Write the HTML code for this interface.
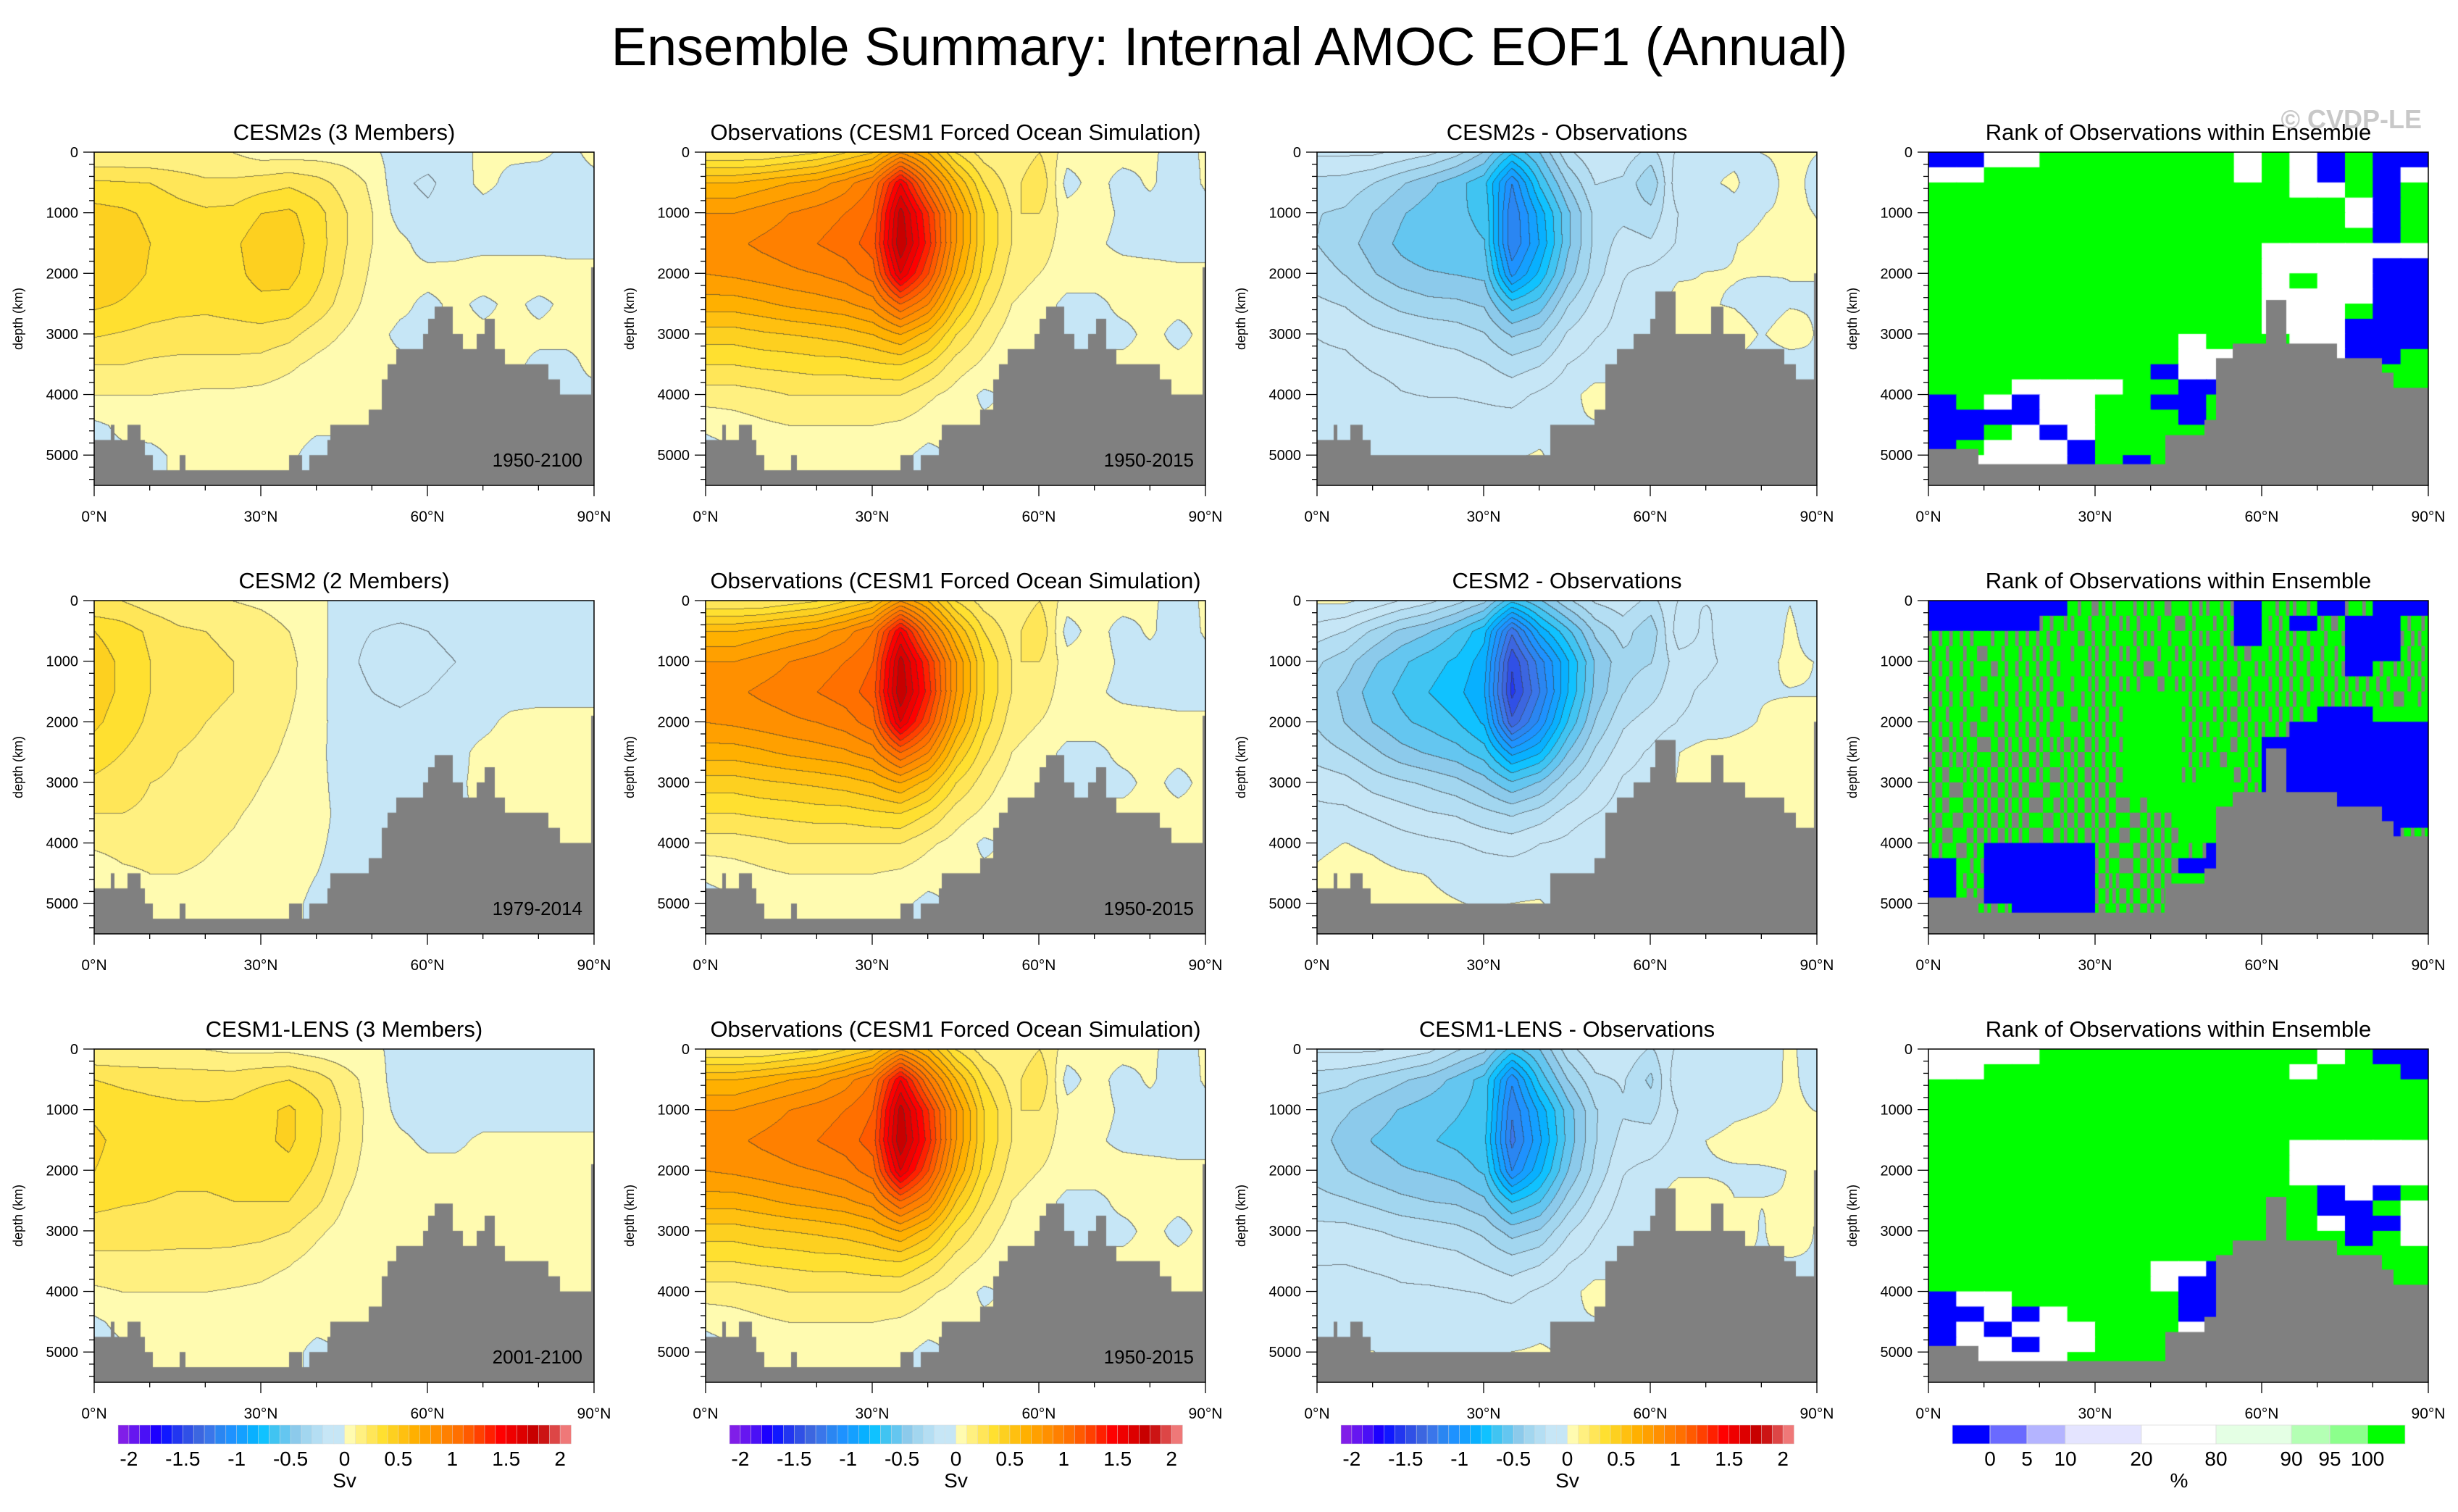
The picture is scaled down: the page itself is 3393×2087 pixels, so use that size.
<!DOCTYPE html>
<html><head><meta charset="utf-8">
<style>
html,body{margin:0;padding:0;background:#fff;}
#root{position:relative;width:3393px;height:2087px;overflow:hidden;background:#fff;font-family:"Liberation Sans",sans-serif;}
canvas{position:absolute;}
svg{position:absolute;left:0;top:0;}
</style></head>
<body>
<div id="root">
<svg id="ov" width="3393" height="2087"></svg>
</div>
<script>
// ---------- DATA ----------
const lats = [0,5,10,15,20,25,30,35,40,45,50,55,60,65,70,75,80,85,90];
const depths = [0,500,1000,1500,2000,2500,3000,3500,4000,4500,5000,5500];
const cesm2s = [
[0.1,0.1,0.1,0.1,0.1,0.1,0.05,0.05,0.05,0.05,0.02,-0.05,-0.05,-0.03,0.02,0.02,0.02,-0.02,0.02],
[0.32,0.31,0.3,0.26,0.22,0.22,0.25,0.28,0.24,0.16,0.08,-0.08,-0.12,-0.05,0.03,-0.03,-0.05,-0.03,-0.02],
[0.44,0.42,0.38,0.34,0.32,0.33,0.4,0.42,0.34,0.21,0.1,-0.05,-0.08,-0.05,-0.05,-0.05,-0.05,-0.05,-0.05],
[0.48,0.45,0.4,0.35,0.34,0.38,0.46,0.46,0.35,0.21,0.1,0.03,-0.05,-0.04,-0.03,-0.03,-0.03,-0.03,-0.03],
[0.48,0.45,0.39,0.35,0.34,0.37,0.44,0.44,0.33,0.19,0.08,0.03,0.03,0.03,0.05,0.05,0.05,0.03,0.03],
[0.42,0.39,0.35,0.33,0.32,0.34,0.37,0.36,0.27,0.15,0.06,0.02,-0.02,0.02,-0.02,0.02,-0.02,0.02,0.02],
[0.31,0.29,0.27,0.26,0.26,0.26,0.26,0.23,0.15,0.09,0.03,-0.02,-0.02,0.02,0.02,0.02,0.02,0.02,0.02],
[0.2,0.2,0.18,0.17,0.17,0.17,0.16,0.12,0.07,0.04,0.02,0.02,0.02,0.02,0.02,0.02,-0.02,-0.02,0.02],
[0.1,0.1,0.1,0.09,0.08,0.08,0.07,0.05,0.03,0.02,0.02,0.02,0.02,0.02,0.02,0.02,0.02,-0.02,-0.02],
[-0.02,0.02,0.04,0.05,0.05,0.04,0.03,0.02,0.01,0.01,0.01,0.01,0.01,0.01,0.01,0.01,0.01,0.01,0.01],
[-0.03,-0.02,-0.03,0.02,0.02,0.02,0.02,0.01,-0.02,-0.02,0.01,0.01,0.01,0.01,0.01,0.01,0.01,0.01,0.01],
[-0.03,-0.02,-0.03,0.02,0.02,0.02,0.02,0.01,-0.02,-0.02,0.01,0.01,0.01,0.01,0.01,0.01,0.01,0.01,0.01]];
const cesm2 = [
[0.2,0.2,0.15,0.12,0.1,0.1,0.08,0.05,0.03,-0.05,-0.05,-0.05,-0.05,-0.05,-0.05,-0.05,-0.05,-0.05,-0.05],
[0.4,0.35,0.28,0.22,0.2,0.18,0.15,0.1,0.05,-0.08,-0.1,-0.12,-0.1,-0.08,-0.08,-0.05,-0.08,-0.05,-0.05],
[0.45,0.38,0.3,0.25,0.22,0.2,0.16,0.12,0.05,-0.08,-0.12,-0.15,-0.12,-0.1,-0.08,-0.08,-0.08,-0.05,-0.05],
[0.45,0.38,0.3,0.25,0.22,0.2,0.16,0.12,0.04,-0.07,-0.1,-0.12,-0.1,-0.08,-0.06,-0.05,-0.05,-0.05,-0.05],
[0.42,0.35,0.28,0.23,0.2,0.18,0.15,0.1,0.03,-0.05,-0.07,-0.08,-0.06,-0.05,-0.03,0.03,0.05,0.05,0.05],
[0.35,0.3,0.25,0.2,0.18,0.16,0.13,0.08,0.02,-0.04,-0.05,-0.05,-0.04,-0.03,0.03,0.05,0.05,0.05,0.05],
[0.28,0.25,0.2,0.18,0.16,0.14,0.1,0.06,0.02,-0.03,-0.04,-0.04,-0.03,-0.02,0.03,0.05,0.05,0.05,0.05],
[0.2,0.2,0.18,0.15,0.13,0.11,0.08,0.05,0.02,-0.02,-0.03,-0.03,-0.02,-0.02,0.02,0.03,0.03,0.03,0.03],
[0.12,0.14,0.14,0.13,0.11,0.09,0.06,0.04,0.01,-0.02,-0.02,-0.02,-0.02,-0.02,0.02,0.02,0.02,0.02,0.02],
[0.03,0.08,0.1,0.1,0.09,0.07,0.05,0.03,0.0,-0.02,-0.02,-0.02,-0.02,-0.02,0.02,0.02,0.02,0.02,0.02],
[-0.03,0.02,0.05,0.06,0.06,0.05,0.04,0.02,-0.02,-0.02,-0.02,-0.02,-0.02,-0.02,0.02,0.02,0.02,0.02,0.02],
[-0.03,0.02,0.05,0.06,0.06,0.05,0.04,0.02,-0.02,-0.02,-0.02,-0.02,-0.02,-0.02,0.02,0.02,0.02,0.02,0.02]];
const lens = [
[0.1,0.1,0.1,0.1,0.1,0.08,0.08,0.08,0.05,0.03,0.02,-0.03,-0.03,-0.03,-0.03,-0.03,-0.03,-0.03,-0.03],
[0.3,0.28,0.27,0.26,0.25,0.25,0.28,0.3,0.25,0.15,0.05,-0.05,-0.05,-0.05,-0.03,-0.05,-0.05,-0.05,-0.03],
[0.38,0.35,0.33,0.32,0.32,0.33,0.37,0.42,0.33,0.18,0.06,-0.03,-0.05,-0.05,-0.05,-0.05,-0.05,-0.05,-0.05],
[0.42,0.37,0.34,0.33,0.33,0.34,0.38,0.42,0.32,0.17,0.06,0.02,-0.02,-0.02,0.02,0.02,0.02,0.02,0.02],
[0.4,0.36,0.33,0.32,0.32,0.33,0.35,0.37,0.28,0.14,0.05,0.03,0.03,0.03,0.03,0.03,0.03,0.03,0.03],
[0.33,0.31,0.3,0.29,0.29,0.3,0.3,0.3,0.22,0.1,0.04,0.03,0.02,0.03,0.03,0.03,0.03,0.03,0.03],
[0.25,0.25,0.25,0.24,0.24,0.24,0.23,0.2,0.12,0.06,0.03,0.02,0.02,0.02,0.02,0.02,0.02,0.02,0.02],
[0.17,0.17,0.17,0.17,0.17,0.16,0.14,0.11,0.06,0.03,0.02,0.02,0.02,0.02,0.02,0.02,0.02,0.02,0.02],
[0.08,0.1,0.1,0.1,0.1,0.09,0.08,0.05,0.03,0.02,0.02,0.02,0.02,0.02,0.02,0.02,0.02,0.02,0.02],
[-0.02,0.03,0.05,0.06,0.06,0.05,0.04,0.03,0.02,0.01,0.01,0.01,0.01,0.01,0.01,0.01,0.01,0.01,0.01],
[-0.05,-0.02,0.02,0.03,0.03,0.03,0.02,0.02,-0.02,0.01,0.01,0.01,0.01,0.01,0.01,0.01,0.01,0.01,0.01],
[-0.05,-0.02,0.02,0.03,0.03,0.03,0.02,0.02,-0.02,0.01,0.01,0.01,0.01,0.01,0.01,0.01,0.01,0.01,0.01]];
const obs = [
[0.2,0.2,0.2,0.25,0.3,0.4,0.5,0.8,0.6,0.3,0.15,0.1,0.2,0.05,0.05,0.05,0.02,-0.05,0.02],
[0.6,0.6,0.65,0.7,0.75,0.85,1.0,1.5,1.0,0.6,0.3,0.15,0.3,-0.05,0.05,-0.05,0.02,-0.08,0.02],
[0.8,0.8,0.85,0.9,0.95,1.0,1.1,1.75,1.3,0.8,0.4,0.2,0.2,0.05,0.05,-0.02,-0.05,-0.08,-0.05],
[0.85,0.88,0.92,0.95,1.0,1.05,1.15,1.8,1.35,0.8,0.4,0.2,0.15,0.05,0.02,-0.03,-0.05,-0.05,-0.05],
[0.8,0.82,0.85,0.88,0.9,0.95,1.05,1.6,1.2,0.7,0.35,0.15,0.1,0.05,0.05,0.05,0.05,0.03,0.03],
[0.65,0.65,0.68,0.72,0.75,0.78,0.85,1.1,0.9,0.5,0.25,0.1,0.05,-0.03,-0.03,0.03,0.03,0.03,0.03],
[0.45,0.45,0.48,0.5,0.52,0.55,0.6,0.7,0.55,0.3,0.15,0.05,0.03,-0.03,-0.03,-0.03,0.03,-0.03,0.03],
[0.3,0.3,0.32,0.33,0.35,0.35,0.38,0.4,0.3,0.15,0.08,0.03,0.03,0.03,0.03,0.03,0.03,0.03,0.03],
[0.15,0.15,0.17,0.2,0.2,0.2,0.2,0.2,0.12,0.06,-0.02,0.02,0.02,0.02,0.02,0.02,0.02,0.02,0.02],
[0.02,0.05,0.08,0.1,0.1,0.1,0.1,0.08,0.04,0.02,0.02,0.02,0.02,0.02,0.02,0.02,0.02,0.02,0.02],
[-0.05,-0.02,0.02,0.05,0.05,0.05,0.05,0.02,-0.03,0.02,0.02,0.02,0.02,0.02,0.02,0.02,0.02,0.02,0.02],
[-0.05,-0.02,0.02,0.05,0.05,0.05,0.05,0.02,-0.03,0.02,0.02,0.02,0.02,0.02,0.02,0.02,0.02,0.02,0.02]];
// bathymetry: latitude edges and floor depth
const bathyEdgesA = [0,3.1,3.5,6.1,8.2,9.1,10.5,15.5,16.4,35.1,37.3,38.8,42,42.6,49.5,51.8,52.9,54.4,59.3,60.2,61.4,64.5,66.2,68.9,70.4,72,73.7,81.6,83.7,89.5,90];
const bathyDepthA = [4750,4500,4750,4500,4750,5000,5250,5000,5250,5000,5250,5000,4750,4500,4250,3750,3500,3250,3000,2750,2550,3000,3250,3000,2750,3250,3500,3750,4000,1900];
const bathyEdgesD = [0,3,3.4,6,8,9.5,42,50,52,54,57,60,61,64.5,71,73,77,84,86,89.6,90];
const bathyDepthD = [4750,4500,4750,4500,4750,5000,4500,4250,3500,3250,3000,2750,2300,3000,2550,3000,3250,3500,3750,2000];
const bathyEdgesR = [0,8.75,40,42.7,49.7,51.8,54.8,60.9,64.4,73.5,81.5,83.6,90];
const bathyDepthR = [4900,5150,5150,4670,4420,3400,3160,2440,3160,3400,3640,3890];
// rank grids: 18 lat bins (5 deg) x 22 depth bins (250 m); b=blue w=white g=green x/y=green-grey speckle
const rank1 = ["bbwwgggggggwgwbgbb","wwgggggggggwgwbgbw","gggggggggggggwwgbg","gggggggggggggggwbg","gggggggggggggggwbg","ggggggggggggggggbg","ggggggggggggwwwwww","ggggggggggggwwwwbb","ggggggggggggwgwwbb","ggggggggggggwwwwbb","ggggggggggggwwwgbb","ggggggggggggwwwbbb","gggggggggwgggwwbbb","gggggggggwwgwwwbbg","ggggggggbwwgwwwggg","gggwwwwggbbggwwggg","bgwbwwggbbggwwwggg","bbbbwwgggbgggggggg","bbgwbwgggggggggggg","bgwwwbgggggggggggg","gwwwwbgbgggggggggg","gwwwwbgbgggggggggg"];
const rank2 = ["bbbbbxxxxxxbxxbxbb","bbbbxxxxxxxbxbxbbx","xxxxxxxxxxxbxxxbbx","xxxxxxxxxxxxxxxbbx","xxxxxxxxxxxxxxxbxx","xxxxxxxxxxxxxxxxxx","xxxxxxxggxxxxxxxxx","xxxxxxxggxxxxxbbgg","xxxxxxxggxxxxbbbbb","yyyyyyxggxxxbbbbbb","yyyyyyxggxxxbbbbbb","yyyyyyyggxgxbbbbbb","yyyyyyyggggxbbbbbb","yyyyyyyygggxxxbbbb","yyyyyyyyygggxxxbbb","yyyyyyyyyggxxxxbbx","xybbbbyyyxbbyyyyyy","bxbbbbyyybbbyyyyyy","bxbbbbyyyggyyyyyyy","bybbbbyyyyyyyyyyyy","yyybbbyyybyyyyyyyy","yyyyyyyyyyyyyyyyyy"];
const rank3 = ["wwwwggggggggggwgbb","wwgggggggggggwgggb","gggggggggggggggggg","gggggggggggggggggg","gggggggggggggggggg","gggggggggggggggggg","gggggggggggggwwwww","gggggggggggggwwwww","gggggggggggggwwwww","ggggggggggggggbwbg","ggggggggggggggbbgw","ggggggggggggggwbbw","gggggggggggggggbgw","gggggggggggggggggg","ggggggggwwbggggggg","ggggggggwbbggggggg","bwwggggggbbggggggg","bbwbwggggbbggggggg","bwbwwwgggwgggggggg","bwwbwwgggggggggggg","gwwwwggggggggggggg","gwwwwggggggggggggg"];
const cbColors = ["#801ee8","#6616f0","#4a10f6","#1c00ff","#1018ff","#2236f0","#3050e6","#3c66e0","#3a76ea","#2a86f2","#1e92ff","#14a0ff","#08b0ff","#10c2ff","#40c4f2","#64c6f0","#8ccaeb","#a2d6ef","#b4def3","#c6e6f6","#c6e6f6","#fffbb0","#fff080","#ffe658","#ffe030","#fdd020","#ffc010","#ffb000","#ffa000","#ff9000","#ff8000","#ff7000","#ff5a00","#ff4000","#ff2000","#ff0000","#ef0000","#dd0000","#c80000","#cc1414","#dd4646","#ef7878"];
const cbLabels = ["-2","-1.5","-1","-0.5","0","0.5","1","1.5","2"];
const rankColors = ["#0000ff","#6a6aff","#b4b4ff","#e4e4ff","#ffffff","#e4ffe4","#b4ffb4","#8cff8c","#00ff00"];
const rankEdgesPx = [2695,2747,2798,2851,2956,3059,3163,3216,3268,3320];
const rankLabels = ["0","5","10","20","80","90","95","100"];
const yTicks = [0,1000,2000,3000,4000,5000];
const xTicks = [0,30,60,90];
// ---------- LAYOUT ----------
const colX = [130,974,1818,2662], rowY = [210,829,1448], PW = 690, PH = 460;
const MAXD = 5500;
const root = document.getElementById('root');
const ov = document.getElementById('ov');
const NS = 'http://www.w3.org/2000/svg';
function sv(tag, attrs, parent){const e=document.createElementNS(NS,tag);for(const k in attrs)e.setAttribute(k,attrs[k]);(parent||ov).appendChild(e);return e;}
function xs(lat){return lat/90*PW;}
function ys(d){return d/MAXD*PH;}
function hex(c){return [parseInt(c.substr(1,2),16),parseInt(c.substr(3,2),16),parseInt(c.substr(5,2),16)];}
const cbRGB = cbColors.map(hex);
function interp(g, lat, d){
  let fi = lat/5, fj = d/500;
  let i = Math.min(17, Math.floor(fi)), j = Math.min(10, Math.floor(fj));
  let a = fi-i, b = fj-j;
  return g[j][i]*(1-a)*(1-b)+g[j][i+1]*a*(1-b)+g[j+1][i]*(1-a)*b+g[j+1][i+1]*a*b;
}
function level(v){let k=Math.floor((v+2.1)/0.1);if(v>=0&&v<0.1)k=21;if(v<0&&v>-0.1)k=20;return Math.max(0,Math.min(41,k));}
function makeCanvas(x,y,name){
  const c=document.createElement('canvas');c.width=PW;c.height=PH;c.style.left=x+'px';c.style.top=y+'px';
  
  
  root.insertBefore(c, ov);return c.getContext('2d');
}
function drawField(ctx, fn){
  const img=ctx.createImageData(PW,PH);const L=new Int16Array(PW*PH);
  for(let y=0;y<PH;y++){const d=y/PH*MAXD;for(let x=0;x<PW;x++){L[y*PW+x]=level(fn(x/PW*90,d));}}
  for(let y=0;y<PH;y++)for(let x=0;x<PW;x++){
    const k=L[y*PW+x];let c=cbRGB[k];let r=c[0],g=c[1],b=c[2];
    const edge=(x>0&&L[y*PW+x-1]!==k)||(y>0&&L[(y-1)*PW+x]!==k);
    if(edge){r=r*0.4+35;g=g*0.4+35;b=b*0.4+35;}
    const p=(y*PW+x)*4;img.data[p]=r;img.data[p+1]=g;img.data[p+2]=b;img.data[p+3]=255;}
  ctx.putImageData(img,0,0);
}
function drawBathy(ctx, edges, depth){
  ctx.fillStyle='#808080';
  for(let i=0;i<depth.length;i++){const x0=xs(edges[i]),x1=xs(edges[i+1]);ctx.fillRect(Math.floor(x0),ys(depth[i]),Math.ceil(x1-x0)+1,PH);}
}
const rankMap={b:'#0000ff',w:'#ffffff',g:'#00ff00'};
function drawRank(ctx, grid){
  const cw=PW/18, ch=PH/22;
  for(let j=0;j<22;j++)for(let i=0;i<18;i++){
    const t=grid[j][i];
    if(rankMap[t]){ctx.fillStyle=rankMap[t];ctx.fillRect(i*cw,j*ch,cw+1,ch+1);}
    else{const n=8;for(let s=0;s<n;s++){const h=((i*7+j*13+s*5)*2654435761>>>0)%10;const grey=t==='x'?h<3:h<5;ctx.fillStyle=grey?'#808080':'#00ff00';ctx.fillRect(i*cw+s*cw/n,j*ch,cw/n+1,ch+1);}}
  }
}
function text(x,y,s,size,anchor,name,extra){const t=sv('text',Object.assign({x:x,y:y,'font-size':size,'text-anchor':anchor||'middle','font-family':'Liberation Sans, sans-serif',fill:'#000'},extra||{}));t.textContent=s;return t;}
function axes(px,py,title,period,r,c){
  const g=sv('g',{});
  
  
  sv('rect',{x:px,y:py,width:PW,height:PH,fill:'none',stroke:'#000','stroke-width':1.5},g);
  for(let d=0;d<=MAXD;d+=200){const y=py+ys(d);const maj=d%1000===0;sv('line',{x1:px,x2:px-(maj?15:7),y1:y,y2:y,stroke:'#000','stroke-width':1.3},g);}
  yTicks.forEach(d=>{text(px-22,py+ys(d)+7,String(d),20,'end','y-tick-label');});
  for(let l=0;l<=90;l+=10){const x=px+xs(l);const maj=l%30===0;sv('line',{x1:x,x2:x,y1:py+PH,y2:py+PH+(maj?15:7),stroke:'#000','stroke-width':1.3},g);}
  xTicks.forEach(l=>{text(px+xs(l),py+PH+50,l+'°N',21,'middle','x-tick-label');});
  text(px-105,py+PH/2+6,'depth (km)',18,'middle','y-axis-title',{transform:'rotate(-90 '+(px-105)+' '+(py+PH/2)+')'});
  text(px+PW/2,py-17,title,31,'middle','panel-title');
  if(period)text(px+PW-16,py+PH-26,period,26,'end','period-label');
}
const rowsModel=[cesm2s,cesm2,lens];
const modelNames=["CESM2s (3 Members)","CESM2 (2 Members)","CESM1-LENS (3 Members)"];
const diffNames=["CESM2s - Observations","CESM2 - Observations","CESM1-LENS - Observations"];
const periods=["1950-2100","1979-2014","2001-2100"];
const ranks=[rank1,rank2,rank3];
for(let r=0;r<3;r++){
  const py=rowY[r];
  const m=rowsModel[r];
  let ctx=makeCanvas(colX[0],py,'model-field-r'+(r+1));drawField(ctx,(la,d)=>interp(m,la,d));drawBathy(ctx,bathyEdgesA,bathyDepthA);
  ctx=makeCanvas(colX[1],py,'obs-field-r'+(r+1));drawField(ctx,(la,d)=>interp(obs,la,d));drawBathy(ctx,bathyEdgesA,bathyDepthA);
  ctx=makeCanvas(colX[2],py,'diff-field-r'+(r+1));drawField(ctx,(la,d)=>interp(m,la,d)-interp(obs,la,d)*0.92);drawBathy(ctx,bathyEdgesD,bathyDepthD);
  ctx=makeCanvas(colX[3],py,'rank-field-r'+(r+1));drawRank(ctx,ranks[r]);drawBathy(ctx,bathyEdgesR,bathyDepthR);
  axes(colX[0],py,modelNames[r],periods[r],r,0);
  axes(colX[1],py,"Observations (CESM1 Forced Ocean Simulation)","1950-2015",r,1);
  axes(colX[2],py,diffNames[r],null,r,2);
  axes(colX[3],py,"Rank of Observations within Ensemble",null,r,3);
}
// colorbars
for(let c=0;c<3;c++){
  const x0=colX[c]+33,x1=colX[c]+658,w=(x1-x0)/42;
  const g=sv('g',{});
  
  
  cbColors.forEach((col,i)=>{sv('rect',{x:x0+i*w,y:1967,width:w+0.5,height:26,fill:col,stroke:'#ddd','stroke-width':0.5},g);});
  cbLabels.forEach((s,i)=>{text(x0+(1+i*5)*w,2023,s,28,'middle','colorbar-label');});
  text(x0+21*w,2053,'Sv',28,'middle','colorbar-units');
}
{
  const g=sv('g',{});
  
  
  rankColors.forEach((col,i)=>{sv('rect',{x:rankEdgesPx[i],y:1967,width:rankEdgesPx[i+1]-rankEdgesPx[i],height:26,fill:col,stroke:'#ddd','stroke-width':0.8},g);});
  rankLabels.forEach((s,i)=>{text(rankEdgesPx[i+1],2023,s,28,'middle','colorbar-label');});
  text(3008,2053,'%',28,'middle','colorbar-units');
}
text(1697,90,'Ensemble Summary: Internal AMOC EOF1 (Annual)',74,'middle','main-title');
text(3343,177,'© CVDP-LE',36,'end','watermark',{fill:'#c8c8c8','font-weight':'bold'});
</script>
</body></html>
